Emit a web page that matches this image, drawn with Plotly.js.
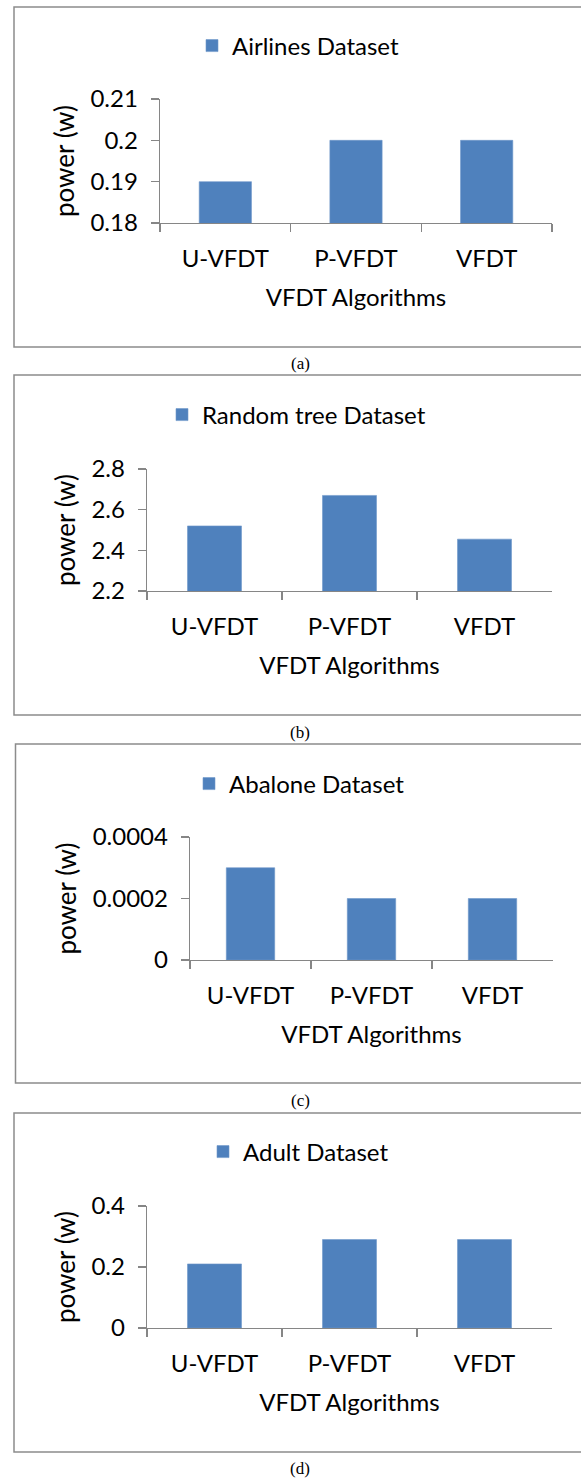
<!DOCTYPE html>
<html>
<head>
<meta charset="utf-8">
<script src="https://cdn.plot.ly/plotly-3.0.1.min.js"></script>
<style>
html,body{margin:0;padding:0;background:#fff;}
#chart{width:581px;height:1478px;}
</style>
</head>
<body>
<div id="chart"></div>
<script>
// ---- data ----
const categories = ['U-VFDT', 'P-VFDT', 'VFDT'];
const airlinesPower = [0.19, 0.20, 0.20];
const randomTreePower = [2.52, 2.67, 2.455];
const abalonePower = [0.0003, 0.0002, 0.0002];
const adultPower = [0.21, 0.29, 0.29];
const datasetNames = ['Airlines Dataset', 'Random tree Dataset', 'Abalone Dataset', 'Adult Dataset'];
const yRanges = [[0.18, 0.21], [2.2, 2.8], [0, 0.0004], [0, 0.4]];
const yDticks = [0.01, 0.2, 0.0002, 0.2];
const panelLabels = ['(a)', '(b)', '(c)', '(d)'];
const xTitle = 'VFDT Algorithms';
const yTitle = 'power (w)';
const seriesValues = [airlinesPower, randomTreePower, abalonePower, adultPower];

// ---- geometry (pixels in the 581x1478 page) ----
const W = 581, H = 1478;
const geom = [
  {x0:160, x1:552, y0:99,  y1:223,  box:[14, 7, 347],     leg:[207, 46],   lab:363},
  {x0:147, x1:552, y0:469, y1:591,  box:[14, 375, 715],   leg:[177, 415],  lab:732},
  {x0:190, x1:553, y0:837, y1:960,  box:[15.5, 744, 1083],leg:[204, 784],  lab:1100},
  {x0:147, x1:552, y0:1206,y1:1328, box:[14, 1113, 1452], leg:[218, 1152], lab:1468}
];
const px = v => v / W;
const py = v => 1 - v / H;

const FONT = 'Lato, "Open Sans", sans-serif';
const BAR = '#4F81BD';
const AXIS = '#868686';

const traces = [];
const layout = {
  width: W, height: H,
  margin: {l:0, r:0, t:0, b:0},
  paper_bgcolor: '#ffffff', plot_bgcolor: 'rgba(0,0,0,0)',
  bargap: 0.6,
  font: {family: FONT, color: '#000', size: 24},
  shapes: [], annotations: [],
  showlegend: true
};

seriesValues.forEach((vals, i) => {
  const n = i === 0 ? '' : String(i + 1);
  const g = geom[i];
  const legName = 'legend' + n;
  traces.push({
    type: 'bar', x: categories, y: vals, name: datasetNames[i],
    xaxis: 'x' + n, yaxis: 'y' + n, legend: legName,
    marker: {color: BAR, line: {color: '#6f97c9', width: 0.6}},
    hoverinfo: 'x+y'
  });
  layout['xaxis' + n] = {
    domain: [px(g.x0), px(g.x1)], anchor: 'y' + n, type: 'category',
    showline: true, linecolor: AXIS, linewidth: 1.3,
    ticks: 'outside', tickson: 'boundaries', ticklen: 8, tickcolor: AXIS, tickwidth: 1.3,
    showgrid: false, zeroline: false, fixedrange: true,
    tickfont: {family: FONT, size: 24, color: '#000'},
    ticklabelstandoff: 14,
    title: {text: xTitle, font: {family: FONT, size: 24, color: '#000'}, standoff: 18}
  };
  layout['yaxis' + n] = {
    domain: [py(g.y1), py(g.y0)], anchor: 'x' + n,
    range: yRanges[i], tickmode: 'linear', tick0: yRanges[i][0], dtick: yDticks[i],
    exponentformat: 'none',
    showline: true, linecolor: AXIS, linewidth: 1.3,
    ticks: 'outside', ticklen: 8, tickcolor: AXIS, tickwidth: 1.3,
    showgrid: false, zeroline: false, fixedrange: true,
    tickfont: {family: FONT, size: 24, color: '#000'},
    ticklabelstandoff: 8,
    title: {text: yTitle, font: {family: FONT, size: 26, color: '#000'}, standoff: 8}
  };
  layout[legName] = {
    x: px(g.leg[0] - 15), y: py(g.leg[1]), xanchor: 'left', yanchor: 'middle',
    bgcolor: 'rgba(0,0,0,0)', borderwidth: 0,
    font: {family: FONT, size: 24, color: '#000'}
  };
  layout.shapes.push({
    type: 'rect', xref: 'paper', yref: 'paper',
    x0: px(g.box[0]), x1: px(W + 10), y0: py(g.box[2]), y1: py(g.box[1]),
    line: {color: '#8c8c8c', width: 1.5}, fillcolor: 'rgba(0,0,0,0)', layer: 'below'
  });
  layout.annotations.push({
    xref: 'paper', yref: 'paper', x: px(300), y: py(g.lab),
    xanchor: 'center', yanchor: 'middle', showarrow: false,
    text: panelLabels[i], font: {family: '"Liberation Serif", "Times New Roman", serif', size: 17, color: '#000'}
  });
});

Plotly.newPlot('chart', traces, layout, {displayModeBar: false, staticPlot: true});
</script>
</body>
</html>
